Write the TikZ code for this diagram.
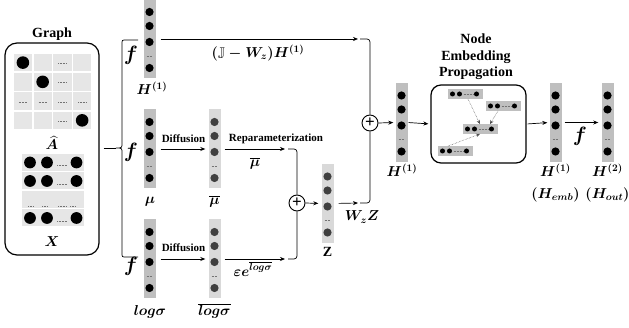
\documentclass[tikz,border=0pt]{standalone}
\usepackage[no-math]{fontspec}
\setmainfont{Liberation Serif}
\usepackage{amssymb,bm}
\usetikzlibrary{arrows.meta,calc}

\definecolor{colA}{HTML}{BFBFBF}
\definecolor{colB}{HTML}{D9D9D9}
\definecolor{dotB}{HTML}{404040}
\definecolor{cellgray}{HTML}{E6E6E6}

\tikzset{
  featbox/.style={rectangle, inner sep=0pt, minimum width=12pt, minimum height=79pt},
  rowbox/.style={rectangle, inner sep=0pt, fill=colA, minimum width=35pt, minimum height=9.5pt},
  plusnode/.style={circle, draw, line width=0.9pt, minimum size=16pt, inner sep=0pt, fill=white,
    font=\fontsize{17}{17}\selectfont\bfseries},
  flow/.style={-{Stealth[length=5pt,width=4pt]}, line width=0.7pt},
  hook/.style={line width=0.7pt, rounded corners=3pt},
  prop/.style={-{Stealth[length=4pt,width=3.5pt]}, densely dotted, line width=0.5pt, black!70},
  ellip/.style={dash pattern=on 0.5pt off 1pt, line width=0.5pt, black!55},
  lbl/.style={font=\fontsize{14}{16}\selectfont\boldmath, inner sep=0pt},
  txt/.style={font=\fontsize{11}{12}\selectfont\bfseries, inner sep=0pt},
  head/.style={font=\fontsize{14}{16.5}\selectfont\bfseries, inner sep=0pt, align=center},
  fn/.style={font=\fontsize{22}{22}\selectfont\boldmath, inner sep=0pt}
}

% feature column: name, x, y, fill, dot colour
\newcommand{\featcol}[5]{%
  \node[featbox, fill=#4] (#1) at (#2,#3) {};
  \foreach \dy in {-27,-13,3,29}
    \fill[#5] ($(#1.center)+(0,\dy)$) circle (4.1pt);
  \draw[ellip] ($(#1.center)+(-3,17)$) -- ($(#1.center)+(3,17)$);
}

% small row vector inside the propagation box
\newcommand{\rowvec}[3]{%
  \node[rowbox] (#1) at (#2,#3) {};
  \foreach \dx in {-12.5,-5.5,11.5}
    \fill ($(#1.center)+(\dx,0)$) circle (2.5pt);
  \draw[ellip] ($(#1.center)+(-1.5,0)$) -- ($(#1.center)+(8,0)$);
}

\begin{document}
\begin{tikzpicture}[x=1pt, y=-1pt]
\useasboundingbox (0,0) rectangle (629,328);

% Graph input
\node[draw, line width=1.2pt, rounded corners=12pt, minimum width=94pt, minimum height=212pt] (graph) at (52,149) {};
\node[head, anchor=base] (graphT) at (52,38) {Graph};

% adjacency matrix
\foreach \r in {0,...,3}
  \foreach \c in {0,...,3}
    \fill[cellgray] ({13.8+19.75*\c},{53.8+19.25*\r}) rectangle ++(18.2,17.7);
\foreach \r/\c in {0/0,1/1,3/3}
  \fill ({22.9+19.75*\c},{62.6+19.25*\r}) circle (6.3pt);
\foreach \r/\c in {0/2,1/2,2/0,2/1,2/2,2/3,3/2}
  \draw[ellip] ({18.9+19.75*\c},{63.5+19.25*\r}) -- ++(8,0);
\node[lbl] (Ahat) at (52,143) {$\bm{\widehat{A}}$};

% feature matrix
\foreach \r in {0,...,3}
  \fill[cellgray] (22,{153.6+18.5*\r}) rectangle ++(62,17.3);
\foreach \r in {0,1,3} {
  \fill (30,{162.5+18.5*\r}) circle (5.9pt);
  \fill (47,{162.5+18.5*\r}) circle (5.9pt);
  \fill (76.5,{162.5+18.5*\r}) circle (5.9pt);
  \draw[ellip] (57,{165.5+18.5*\r}) -- ++(10,0);
}
\foreach \a/\b in {28/33,42/47,58/67,70/75}
  \draw[ellip] (\a,206) -- (\b,206);
\node[lbl] (Xlbl) at (52,242) {$\bm{X}$};

% brace
\coordinate (brTip) at (116,148);
\draw[line width=0.7pt] (138,40) -- (126,40) .. controls (122,40) .. (122,44) -- (122,143)
  .. controls (122,148) .. (brTip) .. controls (122,148) .. (122,153) -- (122,253)
  .. controls (122,257) .. (126,257) -- (138,257);
\draw[line width=0.9pt, shorten <=4pt] (graph.east |- brTip) -- (brTip);

% encoder outputs
\featcol{hA}{149.5}{39}{colA}{black}
\featcol{mu}{149.5}{149}{colA}{black}
\featcol{sig}{149.5}{259}{colA}{black}
\node[fn] (fA) at (131,55) {$\bm{f}$};
\node[fn] (fB) at (131,152) {$\bm{f}$};
\node[fn] (fC) at (131,266) {$\bm{f}$};
\node[lbl] (hAl) at (152,88) {$\bm{H^{(1)}}$};
\node[lbl] (mul) at (150,202) {$\bm{\mu}$};
\node[lbl] (sigl) at (150,312) {$\bm{log\sigma}$};

% diffused vectors
\featcol{mub}{214.5}{149}{colB}{dotB}
\featcol{sigb}{214.5}{259}{colB}{dotB}
\node[lbl] (mubl) at (214.5,201) {$\bm{\overline{\mu}}$};
\node[lbl] (sigbl) at (214.5,311) {$\bm{\overline{log\sigma}}$};

% sums and Z
\node[plusnode] (plusB) at (297,203) {+};
\node[plusnode] (plusT) at (370,123) {+};
\featcol{zz}{327.5}{203.5}{colB}{dotB}
\node[lbl, font=\fontsize{14}{16}\selectfont\bfseries] (zzl) at (327.5,252) {Z};

% top path
\coordinate (endT) at (358,39);
\draw[flow, shorten <=5pt] (hA.east) -- (endT);
\draw[hook] ([xshift=2pt]endT) -| (plusT.north);
\node[lbl] (wlbl) at (258,53) {$\bm{(\mathbb{J}-W_z)H^{(1)}}$};

% mean path
\draw[flow, shorten <=5pt, shorten >=3pt] (mu.east) -- (mub.west);
\node[txt] (dfA) at (183.5,139) {Diffusion};
\coordinate (endM) at (285,149);
\draw[flow, shorten <=4pt] (mub.east) -- (endM);
\node[txt] (rep) at (276,139) {Reparameterization};
\node[lbl] (repl) at (255,163) {$\bm{\overline{\mu}}$};
\draw[hook] ([xshift=3pt]endM) -| (plusB.north);

% variance path
\draw[flow, shorten <=5pt, shorten >=3pt] (sig.east) -- (sigb.west);
\node[txt] (dfB) at (183.5,248) {Diffusion};
\coordinate (endS) at (285,259);
\draw[flow, shorten <=4pt] (sigb.east) -- (endS);
\draw[hook] ([xshift=3pt]endS) -| (plusB.south);
\node[lbl] (epsl) at (253,269) {$\bm{\varepsilon e^{\overline{log\sigma}}}$};

% Z to top sum
\draw[flow, shorten >=3pt] (plusB.east) -- (zz.west);
\coordinate (endZ) at (358,203);
\draw[flow, shorten <=5pt] (zz.east) -- (endZ);
\draw[hook] ([xshift=2pt]endZ) -| (plusT.south);
\node[lbl] (wzl) at (362,217) {$\bm{W_zZ}$};

% propagation
\featcol{hB}{401.5}{122.5}{colA}{black}
\node[lbl] (hBl) at (402,170) {$\bm{H^{(1)}}$};
\draw[flow, shorten >=2pt] (plusT.east) -- (hB.west);

\node[draw, line width=1.2pt, rounded corners=10pt, minimum width=95pt, minimum height=78pt] (prop) at (478.5,124) {};
\node[head, anchor=south] (propT) at (476,80) {Node\\Embedding\\Propagation};
\rowvec{rA}{465}{94}
\rowvec{rB}{503}{106}
\rowvec{rC}{480}{129}
\rowvec{rD}{455}{151}
\draw[prop] ([xshift=3pt]rA.south) -- (rC.north);
\draw[prop] ([xshift=-5pt]rB.south) -- ([xshift=10pt]rC.north);
\draw[prop] ([xshift=-7pt]rD.north) -- (rC.south);
\draw[flow, shorten <=1pt, shorten >=2pt] (hB.east) -- (prop.west);

% outputs
\featcol{hE}{555.5}{122.5}{colA}{black}
\featcol{hO}{607.5}{122.5}{colA}{black}
\draw[flow, shorten <=1pt, shorten >=2pt] (prop.east) -- (hE.west);
\draw[flow, shorten <=3pt, shorten >=3pt] (hE.east) -- (hO.west);
\node[fn] (fD) at (580,136) {$\bm{f}$};
\node[lbl] (hEl) at (555.5,170) {$\bm{H^{(1)}}$};
\node[lbl] (hEm) at (555.5,195) {$\bm{(H_{emb})}$};
\node[lbl] (hOl) at (607.5,170) {$\bm{H^{(2)}}$};
\node[lbl] (hOm) at (607.5,195) {$\bm{(H_{out})}$};
\end{tikzpicture}
\end{document}
